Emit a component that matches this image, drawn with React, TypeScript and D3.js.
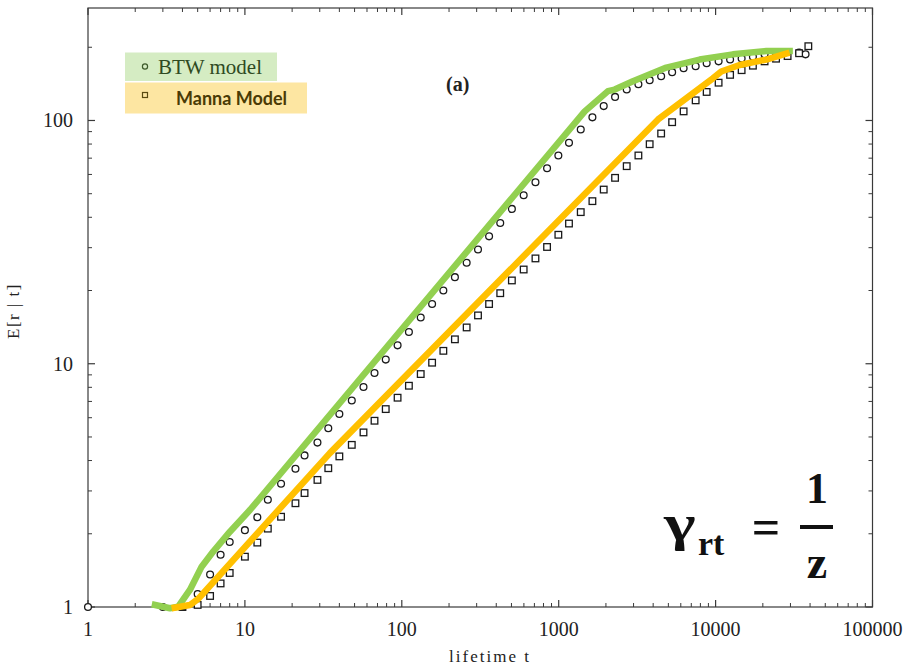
import React from 'react';
import * as d3 from 'd3';

// ---- data ----
const xTickValues = [1, 10, 100, 1000, 10000, 100000];
const xTickLabels = ['1', '10', '100', '1000', '10000', '100000'];
const yTickValues = [1, 10, 100];
const yTickLabels = ['1', '10', '100'];

const btwT = [1, 3, 5, 6, 7, 8, 10, 12, 14, 17, 21, 24, 29, 34, 40, 48, 57, 67, 79, 94, 111, 132, 156, 184, 218, 259, 306, 360, 424, 503, 598, 711, 843, 995, 1163, 1382, 1640, 1936, 2287, 2713, 3221, 3800, 4497, 5284, 6254, 7463, 8770, 10450, 12370, 14650, 17290, 20520, 24280, 28770, 34050, 37440];
const btwE = [1, 1, 1.13, 1.36, 1.64, 1.85, 2.07, 2.34, 2.76, 3.21, 3.7, 4.2, 4.74, 5.43, 6.21, 7.06, 8.02, 9.16, 10.4, 11.9, 13.5, 15.5, 17.6, 20.0, 22.7, 26.0, 29.5, 33.4, 37.9, 43.3, 49.3, 55.7, 63.6, 71.8, 80.9, 91.8, 103, 114.6, 125, 134, 141, 146.5, 152, 158, 164, 167, 172, 175, 178, 180, 183, 187, 190, 191, 190, 187];

const mannaT = [4, 5, 6, 7, 8, 10, 12, 14, 17, 21, 24, 29, 34, 40, 48, 57, 67, 79, 94, 111, 132, 156, 184, 218, 259, 306, 360, 424, 503, 598, 711, 843, 995, 1163, 1382, 1640, 1936, 2287, 2713, 3221, 3800, 4497, 5284, 6254, 7463, 8770, 10450, 12370, 14650, 17290, 20520, 24280, 28770, 34050, 39000];
const mannaE = [1.0, 1.02, 1.11, 1.25, 1.38, 1.61, 1.84, 2.1, 2.35, 2.67, 2.94, 3.33, 3.72, 4.16, 4.64, 5.22, 5.83, 6.51, 7.25, 8.12, 9.07, 10.1, 11.3, 12.6, 14.1, 15.8, 17.6, 19.5, 22.0, 24.4, 27.1, 30.2, 33.9, 37.7, 42.0, 46.6, 52.0, 58.1, 64.9, 71.8, 79.9, 88.4, 98.4, 109, 121, 131, 143, 154, 161, 168, 175, 179.5, 184, 189, 202];

// hand-drawn highlight lines
const greenT = [2.55, 3.33, 3.76, 4.46, 5.3, 6.28, 8.03, 10.8, 1465, 2061, 2274, 2972, 4853, 7909, 12890, 21040, 31070];
const greenE = [1.026, 0.988, 1.003, 1.175, 1.465, 1.69, 2.04, 2.51, 109, 132, 134, 145, 165, 178, 187, 193, 193];
const orangeT = [3.41, 4.46, 5.04, 5.3, 34.8, 4300, 9612, 10870, 14220, 21040, 29600];
const orangeE = [0.988, 1.019, 1.079, 1.12, 4.29, 101, 149, 159, 169, 178, 190];

const seriesNames = ['BTW model', 'Manna Model'];

const W = 908;
const H = 668;
const L = 88, R = 872.5, T = 8, B = 607;

export default function App() {
  const x = d3.scaleLog().domain([1, 100000]).range([L, R]);
  const y = d3.scaleLog().domain([1, 290]).range([B, T]);

  const xMinor: number[] = [];
  for (let d = 1; d < 100000; d *= 10) for (let k = 2; k <= 9; k++) xMinor.push(d * k);
  const yMinor: number[] = [];
  for (let d = 1; d < 1000; d *= 10) for (let k = 2; k <= 9; k++) if (d * k <= 290) yMinor.push(d * k);

  const line = d3.line<[number, number]>().x(d => x(d[0])).y(d => y(d[1]));
  const greenPts = greenT.map((t, i) => [t, greenE[i]] as [number, number]);
  const orangePts = orangeT.map((t, i) => [t, orangeE[i]] as [number, number]);

  const axisColor = '#3a3a3a';
  const serif = 'Liberation Serif';

  return (
    <svg width={W} height={H} style={{ position: 'absolute', left: 0, top: 0, background: '#fff' }}>
      <rect x={0} y={0} width={W} height={H} fill="#fff" />
      {/* frame */}
      <rect x={L} y={T} width={R - L} height={B - T} fill="none" stroke={axisColor} strokeWidth={1.2} />
      {/* x ticks */}
      {xTickValues.map(v => (
        <g key={'xm' + v}>
          <line x1={x(v)} x2={x(v)} y1={B} y2={B - 7} stroke={axisColor} strokeWidth={1.2} />
          <line x1={x(v)} x2={x(v)} y1={T} y2={T + 7} stroke={axisColor} strokeWidth={1.2} />
        </g>
      ))}
      {xMinor.map(v => (
        <g key={'xn' + v}>
          <line x1={x(v)} x2={x(v)} y1={B} y2={B - 4} stroke={axisColor} strokeWidth={1} />
          <line x1={x(v)} x2={x(v)} y1={T} y2={T + 4} stroke={axisColor} strokeWidth={1} />
        </g>
      ))}
      {/* y ticks */}
      {yTickValues.map(v => (
        <g key={'ym' + v}>
          <line x1={L} x2={L + 7} y1={y(v)} y2={y(v)} stroke={axisColor} strokeWidth={1.2} />
          <line x1={R} x2={R - 7} y1={y(v)} y2={y(v)} stroke={axisColor} strokeWidth={1.2} />
        </g>
      ))}
      {yMinor.map(v => (
        <g key={'yn' + v}>
          <line x1={L} x2={L + 4} y1={y(v)} y2={y(v)} stroke={axisColor} strokeWidth={1} />
          <line x1={R} x2={R - 4} y1={y(v)} y2={y(v)} stroke={axisColor} strokeWidth={1} />
        </g>
      ))}
      {/* tick labels */}
      {xTickValues.map((v, i) => (
        <text key={'xl' + v} x={x(v)} y={636} textAnchor="middle" fontFamily={serif} fontSize={20} fill="#222">{xTickLabels[i]}</text>
      ))}
      {yTickValues.map((v, i) => (
        <text key={'yl' + v} x={73} y={y(v) + 7} textAnchor="end" fontFamily={serif} fontSize={20} fill="#222">{yTickLabels[i]}</text>
      ))}
      {/* axis titles */}
      <text x={490} y={662} textAnchor="middle" fontFamily={serif} fontSize={17} letterSpacing={2} fill="#222">lifetime t</text>
      <text transform="translate(19,311) rotate(-90)" textAnchor="middle" fontFamily={serif} fontSize={17} letterSpacing={1.5} fill="#222">E[r | t]</text>

      {/* markers */}
      {btwT.map((t, i) => (
        <circle key={'c' + i} cx={x(t)} cy={y(btwE[i])} r={3.4} fill="#fff" stroke="#1a1a1a" strokeWidth={1.3} />
      ))}
      {mannaT.map((t, i) => (
        <rect key={'s' + i} x={x(t) - 3.3} y={y(mannaE[i]) - 3.3} width={6.6} height={6.6} fill={i === 0 ? '#1a1a1a' : '#fff'} stroke="#1a1a1a" strokeWidth={1.3} />
      ))}

      {/* highlight lines */}
      <path d={line(greenPts) || ''} fill="none" stroke="#92d050" strokeWidth={6.5} strokeLinejoin="round" />
      <path d={line(orangePts) || ''} fill="none" stroke="#ffc000" strokeWidth={6.5} strokeLinejoin="round" />

      {/* panel label */}
      <text x={446} y={91} fontFamily={serif} fontSize={20} fontWeight="bold" fill="#222">(a)</text>

      {/* legend */}
      <rect x={125} y={52.5} width={152} height={28.5} fill="#d5ecc3" />
      <rect x={125} y={82.5} width={182} height={31} fill="#fde6a2" />
      <circle cx={145} cy={66.5} r={2.6} fill="none" stroke="#3d5a2a" strokeWidth={1.2} />
      <rect x={142.5} y={92.5} width={5} height={5} fill="none" stroke="#5a4a10" strokeWidth={1.2} />
      <text x={158} y={74} fontFamily={serif} fontSize={21} fill="#2f4a22">{seriesNames[0]}</text>
      <text x={176} y={105} fontFamily='Lato' fontWeight="bold" fontSize={18} fill="#4a3a05">{seriesNames[1]}</text>

      {/* formula */}
      <g fontFamily={serif} fontWeight="bold" fill="#111">
        <text transform="translate(664,540) scale(1.35,1)" fontSize={50}>γ</text>
        <text x={698} y={555} fontSize={34}>rt</text>
        <text x={766} y={544} fontSize={50} textAnchor="middle">=</text>
        <text x={817} y={503} fontSize={44} textAnchor="middle">1</text>
        <rect x={800} y={525} width={33} height={4} fill="#111" />
        <text x={817} y={578} fontSize={46} textAnchor="middle">z</text>
      </g>
    </svg>
  );
}
